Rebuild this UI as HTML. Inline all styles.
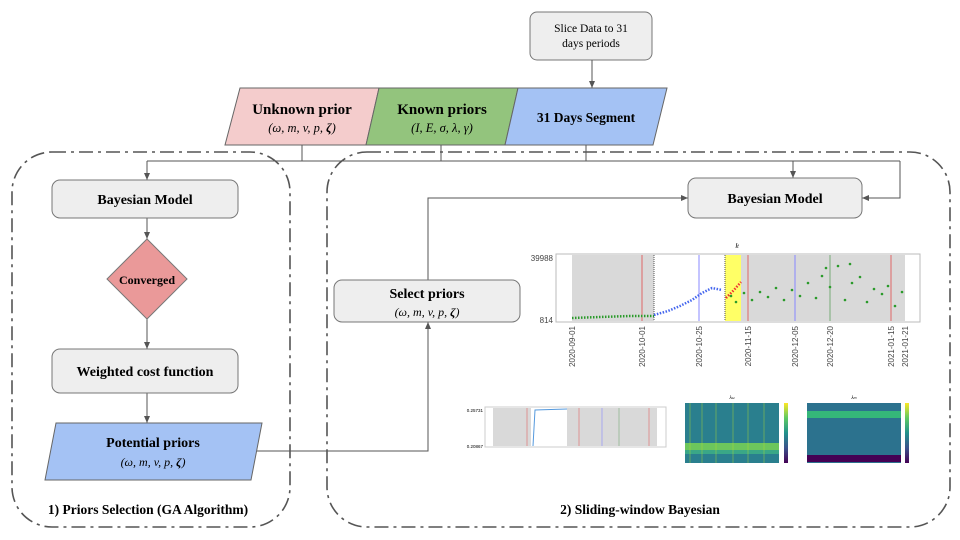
<!DOCTYPE html>
<html><head><meta charset="utf-8"><style>
html,body{margin:0;padding:0;background:#fff;}
svg{display:block;font-family:"Liberation Serif",serif;}
</style></head><body>
<svg width="960" height="540" viewBox="0 0 960 540" xmlns="http://www.w3.org/2000/svg">
<defs>
<marker id="a" markerWidth="8" markerHeight="8" refX="7" refY="4" orient="auto" markerUnits="userSpaceOnUse">
<path d="M0,1 L7,4 L0,7 z" fill="#555"/></marker>
<linearGradient id="vir" x1="0" y1="1" x2="0" y2="0"><stop offset="0" stop-color="#440154"/><stop offset="0.25" stop-color="#3b528b"/><stop offset="0.5" stop-color="#21918c"/><stop offset="0.75" stop-color="#5ec962"/><stop offset="1" stop-color="#fde725"/></linearGradient>
</defs>
<!-- dash-dot containers -->
<rect x="12" y="152" width="278" height="375" rx="40" fill="none" stroke="#555" stroke-width="1.6" stroke-dasharray="14,5,3,5"/>
<rect x="327" y="152" width="623" height="375" rx="40" fill="none" stroke="#555" stroke-width="1.6" stroke-dasharray="14,5,3,5"/>

<!-- slice box -->
<rect x="530" y="12" width="122" height="48" rx="7" fill="#eeeeee" stroke="#777"/>
<text x="591" y="32" font-size="11.5" text-anchor="middle">Slice Data to 31</text>
<text x="591" y="47" font-size="11.5" text-anchor="middle">days periods</text>
<line x1="592" y1="60" x2="592" y2="88" stroke="#555" marker-end="url(#a)"/>

<!-- parallelograms -->
<polygon points="240,88 379,88 366,145 225,145" fill="#f4cccc" stroke="#666"/>
<polygon points="379,88 518,88 505,145 366,145" fill="#93c47d" stroke="#666"/>
<polygon points="518,88 667,88 653,145 505,145" fill="#a4c2f4" stroke="#666"/>
<text x="302" y="114" font-size="15" font-weight="bold" text-anchor="middle">Unknown prior</text>
<text x="302" y="132" font-size="12.5" font-style="italic" text-anchor="middle">(ω, m, v, p, <tspan font-weight="bold">ζ</tspan>)</text>
<text x="442" y="114" font-size="15" font-weight="bold" text-anchor="middle">Known priors</text>
<text x="442" y="132" font-size="12.5" font-style="italic" text-anchor="middle">(I, E, σ, λ, γ)</text>
<text x="586" y="122" font-size="13.5" font-weight="bold" text-anchor="middle">31  Days Segment</text>

<!-- connectors top -->
<g stroke="#555" fill="none">
<line x1="302" y1="145" x2="302" y2="161"/>
<line x1="441" y1="145" x2="441" y2="161"/>
<line x1="586" y1="145" x2="586" y2="161"/>
<line x1="147" y1="161" x2="900" y2="161"/>
<line x1="147" y1="161" x2="147" y2="180" marker-end="url(#a)"/>
<line x1="793" y1="161" x2="793" y2="178" marker-end="url(#a)"/>
<polyline points="900,161 900,198 862,198" marker-end="url(#a)"/>
<line x1="147" y1="218" x2="147" y2="239" marker-end="url(#a)"/>
<line x1="147" y1="319" x2="147" y2="349" marker-end="url(#a)"/>
<line x1="147" y1="393" x2="147" y2="423" marker-end="url(#a)"/>
<polyline points="255,451 428,451 428,322" marker-end="url(#a)"/>
<polyline points="428,280 428,198 688,198" marker-end="url(#a)"/>
</g>

<!-- left column -->
<rect x="52" y="180" width="186" height="38" rx="8" fill="#eeeeee" stroke="#777"/>
<text x="145" y="204" font-size="14" font-weight="bold" text-anchor="middle">Bayesian Model</text>
<polygon points="147,239 187,279 147,319 107,279" fill="#ea9999" stroke="#777"/>
<text x="147" y="284" font-size="12" font-weight="bold" text-anchor="middle">Converged</text>
<rect x="52" y="349" width="186" height="44" rx="8" fill="#eeeeee" stroke="#777"/>
<text x="145" y="376" font-size="14" font-weight="bold" text-anchor="middle">Weighted cost function</text>
<polygon points="56,423 262,423 251,480 45,480" fill="#a4c2f4" stroke="#666"/>
<text x="153" y="447" font-size="14" font-weight="bold" text-anchor="middle">Potential priors</text>
<text x="153" y="466" font-size="12" font-style="italic" text-anchor="middle">(ω, m, v, p, <tspan font-weight="bold">ζ</tspan>)</text>
<text x="148" y="514" font-size="13.5" font-weight="bold" text-anchor="middle">1) Priors Selection (GA Algorithm)</text>

<!-- right column -->
<rect x="688" y="178" width="174" height="40" rx="8" fill="#eeeeee" stroke="#777"/>
<text x="775" y="203" font-size="14" font-weight="bold" text-anchor="middle">Bayesian Model</text>
<rect x="334" y="280" width="186" height="42" rx="8" fill="#eeeeee" stroke="#777"/>
<text x="427" y="298" font-size="14" font-weight="bold" text-anchor="middle">Select priors</text>
<text x="427" y="316" font-size="12" font-style="italic" text-anchor="middle">(ω, m, v, p, <tspan font-weight="bold">ζ</tspan>)</text>
<text x="640" y="514" font-size="13.5" font-weight="bold" text-anchor="middle">2) Sliding-window Bayesian</text>

<!-- main chart -->
<g font-family="Liberation Sans,sans-serif">
<text x="737" y="248" font-size="7" font-style="italic" text-anchor="middle">I<tspan font-size="5">t</tspan></text>
<rect x="556" y="254" width="364" height="68" fill="#fff" stroke="#bbb"/>
<rect x="572" y="255" width="82" height="66" fill="#d9d9d9"/>
<rect x="725" y="255" width="180" height="66" fill="#d9d9d9"/>
<rect x="725" y="255" width="16" height="66" fill="#ffff66"/>
<line x1="642" y1="255" x2="642" y2="321" stroke="#e06666"/>
<line x1="654" y1="255" x2="654" y2="321" stroke="#555" stroke-dasharray="1,1"/>
<line x1="699" y1="255" x2="699" y2="321" stroke="#8888ff"/>
<line x1="725" y1="255" x2="725" y2="321" stroke="#555" stroke-dasharray="1,1"/>
<line x1="748" y1="255" x2="748" y2="321" stroke="#e06666"/>
<line x1="795" y1="255" x2="795" y2="321" stroke="#8888ff"/>
<line x1="830" y1="255" x2="830" y2="321" stroke="#77aa77"/>
<line x1="891" y1="255" x2="891" y2="321" stroke="#e06666"/>
<polyline points="572,318 600,317 630,316 654,316" stroke="#2a9a2a" stroke-width="2.5" stroke-dasharray="1.5,1.5" fill="none"/>
<polyline points="654,315 668,311 680,306 692,300 702,293 712,288 722,290" stroke="#4466ee" stroke-width="2.5" stroke-dasharray="1.5,1.5" fill="none"/>
<polyline points="726,298 734,290 741,282" stroke="#ee3333" stroke-width="2.5" stroke-dasharray="1.5,1.5" fill="none"/>
<g fill="#2a9a2a">
<circle cx="731" cy="296" r="1.3"/><circle cx="736" cy="302" r="1.3"/><circle cx="744" cy="293" r="1.3"/><circle cx="752" cy="300" r="1.3"/><circle cx="760" cy="292" r="1.3"/><circle cx="768" cy="297" r="1.3"/><circle cx="776" cy="288" r="1.3"/><circle cx="784" cy="300" r="1.3"/><circle cx="792" cy="290" r="1.3"/><circle cx="800" cy="296" r="1.3"/><circle cx="808" cy="283" r="1.3"/><circle cx="816" cy="298" r="1.3"/><circle cx="822" cy="276" r="1.3"/><circle cx="830" cy="287" r="1.3"/><circle cx="838" cy="266" r="1.3"/><circle cx="845" cy="300" r="1.3"/><circle cx="852" cy="283" r="1.3"/><circle cx="860" cy="277" r="1.3"/><circle cx="867" cy="302" r="1.3"/><circle cx="874" cy="289" r="1.3"/><circle cx="882" cy="294" r="1.3"/><circle cx="888" cy="286" r="1.3"/><circle cx="895" cy="306" r="1.3"/><circle cx="902" cy="292" r="1.3"/><circle cx="826" cy="268" r="1.3"/><circle cx="850" cy="264" r="1.3"/>
</g>
<text x="553" y="261" font-size="8" text-anchor="end" fill="#444">39988</text>
<text x="553" y="323" font-size="8" text-anchor="end" fill="#444">814</text>
<g font-size="8" fill="#444" text-anchor="end">
<text transform="translate(575,326) rotate(-90)">2020-09-01</text>
<text transform="translate(645,326) rotate(-90)">2020-10-01</text>
<text transform="translate(702,326) rotate(-90)">2020-10-25</text>
<text transform="translate(751,326) rotate(-90)">2020-11-15</text>
<text transform="translate(798,326) rotate(-90)">2020-12-05</text>
<text transform="translate(833,326) rotate(-90)">2020-12-20</text>
<text transform="translate(894,326) rotate(-90)">2021-01-15</text>
<text transform="translate(908,326) rotate(-90)">2021-01-21</text>
</g>

<!-- small chart 1 -->
<rect x="485" y="407" width="181" height="40" fill="#fff" stroke="#ccc"/>
<rect x="493" y="408" width="38" height="38" fill="#d9d9d9"/>
<rect x="567" y="408" width="90" height="38" fill="#d9d9d9"/>
<line x1="527" y1="408" x2="527" y2="446" stroke="#e06666" stroke-width="0.6"/>
<line x1="579" y1="408" x2="579" y2="446" stroke="#e06666" stroke-width="0.6"/>
<line x1="602" y1="408" x2="602" y2="446" stroke="#8888ff" stroke-width="0.6"/>
<line x1="619" y1="408" x2="619" y2="446" stroke="#77aa77" stroke-width="0.6"/>
<line x1="649" y1="408" x2="649" y2="446" stroke="#e06666" stroke-width="0.6"/>
<polyline points="533,446 535,410 567,409" stroke="#5599dd" fill="none"/>
<text x="483" y="412" font-size="4.5" text-anchor="end">0.25731</text>
<text x="483" y="448" font-size="4.5" text-anchor="end">0.20867</text>

<!-- heatmap 1 -->
<rect x="685" y="403" width="94" height="60" fill="#2a7f8e"/>
<rect x="685" y="443" width="94" height="7" fill="#6dc65c"/>
<rect x="685" y="450" width="94" height="4" fill="#3aa787"/>
<g stroke="#b5de2b" stroke-width="0.7" opacity="0.6">
<line x1="690" y1="403" x2="690" y2="463"/><line x1="702" y1="403" x2="702" y2="463"/><line x1="716" y1="403" x2="716" y2="463"/><line x1="733" y1="403" x2="733" y2="463"/><line x1="748" y1="403" x2="748" y2="463"/><line x1="764" y1="403" x2="764" y2="463"/>
</g>
<text x="732" y="399" font-size="4.5" text-anchor="middle" font-style="italic">λ<tspan font-size="3.5">ω</tspan></text>
<rect x="784" y="403" width="4" height="60" fill="url(#vir)"/>
<!-- heatmap 2 -->
<rect x="807" y="403" width="94" height="60" fill="#2c728e"/>
<rect x="807" y="411" width="94" height="7" fill="#35b779"/>
<rect x="807" y="455" width="94" height="7" fill="#440154"/>
<text x="854" y="399" font-size="4.5" text-anchor="middle" font-style="italic">λ<tspan font-size="3.5">m</tspan></text>
<rect x="905" y="403" width="4" height="60" fill="url(#vir)"/>
</g>
</svg>
</body></html>
